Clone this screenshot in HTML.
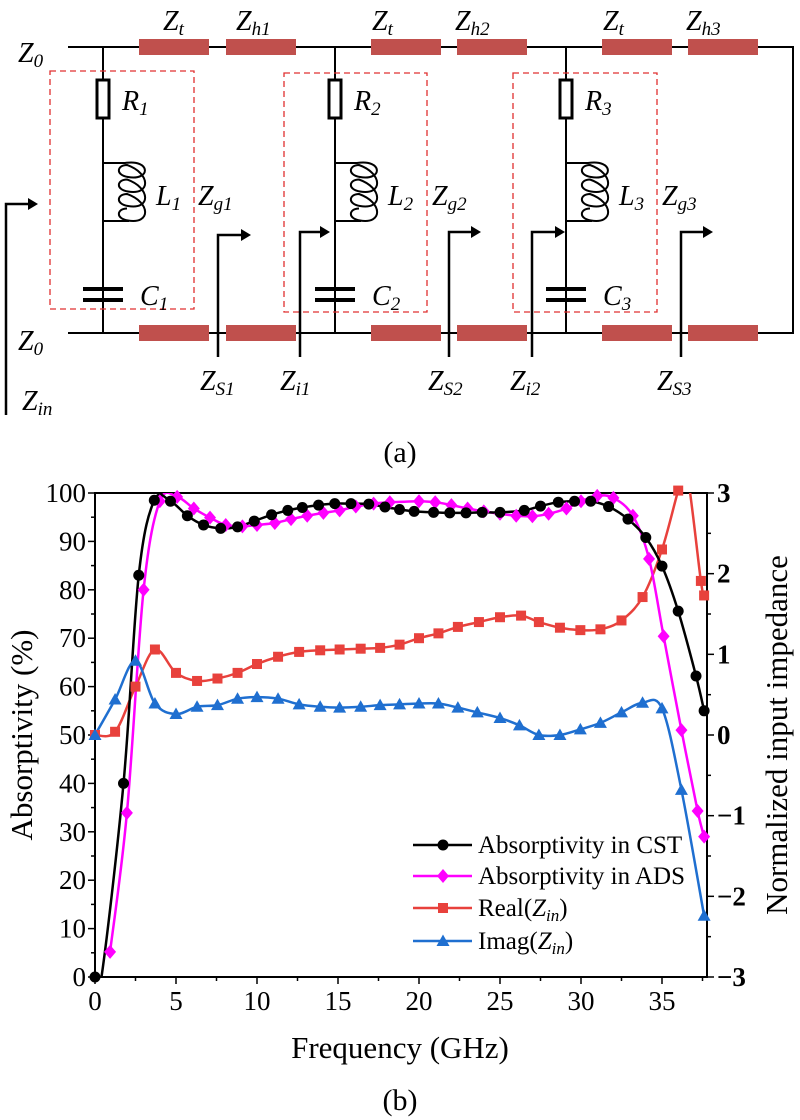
<!DOCTYPE html>
<html><head><meta charset="utf-8"><style>
html,body{margin:0;padding:0;background:#fff;}
svg{display:block;}
text,tspan{font-family:"Liberation Serif","DejaVu Serif","Times New Roman",serif !important;}
.it{font-style:italic;}
</style></head><body>
<svg id="s" width="800" height="1120" viewBox="0 0 800 1120" xmlns="http://www.w3.org/2000/svg" font-family="Liberation Serif, DejaVu Serif, serif">
<g id="circ" stroke="#000" stroke-width="2" fill="none">
 <polyline points="68,47 793,47 793,333 68,333"/>
 <line x1="103" y1="47" x2="103" y2="333"/><line x1="335" y1="47" x2="335" y2="333"/><line x1="566" y1="47" x2="566" y2="333"/>
</g>
<g fill="#c0504d">
 <rect x="139" y="39" width="70" height="16"/><rect x="226" y="39" width="70" height="16"/>
 <rect x="371" y="39" width="70" height="16"/><rect x="457" y="39" width="70" height="16"/>
 <rect x="602" y="39" width="70" height="16"/><rect x="688" y="39" width="70" height="16"/>
 <rect x="139" y="325" width="70" height="16"/><rect x="226" y="325" width="70" height="16"/>
 <rect x="371" y="325" width="70" height="16"/><rect x="457" y="325" width="70" height="16"/>
 <rect x="602" y="325" width="70" height="16"/><rect x="688" y="325" width="70" height="16"/>
</g>
<g id="comps"></g>
<g stroke="#e03030" stroke-width="1.3" stroke-dasharray="6,4" fill="none">
 <rect x="50" y="71" width="144" height="238"/><rect x="284" y="73" width="143" height="239"/><rect x="513" y="73" width="144" height="239"/>
</g>
<g stroke="#000" stroke-width="2.5" fill="none">
 <polyline points="6,415 6,204 30,204"/>
 <polyline points="218,357 218,235 243,235"/><polyline points="300,357 300,232 322,232"/>
 <polyline points="449,357 449,232 473,232"/><polyline points="532,357 532,232 557,232"/>
 <polyline points="681,357 681,232 705,232"/>
</g>
<g fill="#000">
 <polygon points="38,204 28,198 28,210"/><polygon points="251,235 241,229 241,241"/><polygon points="330,232 320,226 320,238"/>
 <polygon points="481,232 471,226 471,238"/><polygon points="565,232 555,226 555,238"/><polygon points="713,232 703,226 703,238"/>
</g>
<g class="it" font-size="28" fill="#000">
 <text x="18" y="62">Z<tspan font-size="19" dy="5">0</tspan></text>
 <text x="18" y="350">Z<tspan font-size="19" dy="5">0</tspan></text>
 <text x="163" y="30">Z<tspan font-size="19" dy="5">t</tspan></text>
 <text x="236" y="30">Z<tspan font-size="19" dy="5">h1</tspan></text>
 <text x="372" y="30">Z<tspan font-size="19" dy="5">t</tspan></text>
 <text x="455" y="30">Z<tspan font-size="19" dy="5">h2</tspan></text>
 <text x="603" y="30">Z<tspan font-size="19" dy="5">t</tspan></text>
 <text x="686" y="30">Z<tspan font-size="19" dy="5">h3</tspan></text>
 <text x="122" y="110">R<tspan font-size="19" dy="5">1</tspan></text>
 <text x="354" y="110">R<tspan font-size="19" dy="5">2</tspan></text>
 <text x="585" y="110">R<tspan font-size="19" dy="5">3</tspan></text>
 <text x="156" y="205">L<tspan font-size="19" dy="5">1</tspan></text>
 <text x="388" y="205">L<tspan font-size="19" dy="5">2</tspan></text>
 <text x="619" y="205">L<tspan font-size="19" dy="5">3</tspan></text>
 <text x="198" y="205">Z<tspan font-size="19" dy="5">g1</tspan></text>
 <text x="432" y="205">Z<tspan font-size="19" dy="5">g2</tspan></text>
 <text x="662" y="205">Z<tspan font-size="19" dy="5">g3</tspan></text>
 <text x="140" y="305">C<tspan font-size="19" dy="5">1</tspan></text>
 <text x="372" y="305">C<tspan font-size="19" dy="5">2</tspan></text>
 <text x="603" y="305">C<tspan font-size="19" dy="5">3</tspan></text>
 <text x="200" y="390">Z<tspan font-size="19" dy="5">S1</tspan></text>
 <text x="280" y="390">Z<tspan font-size="19" dy="5">i1</tspan></text>
 <text x="428" y="390">Z<tspan font-size="19" dy="5">S2</tspan></text>
 <text x="510" y="390">Z<tspan font-size="19" dy="5">i2</tspan></text>
 <text x="657" y="390">Z<tspan font-size="19" dy="5">S3</tspan></text>
 <text x="22" y="410">Z<tspan font-size="19" dy="5">in</tspan></text>
</g>
<text x="400" y="462" font-size="30" text-anchor="middle">(a)</text>
<text x="400" y="1110" font-size="30" text-anchor="middle">(b)</text>
<text x="400" y="1058" font-size="31" text-anchor="middle">Frequency (GHz)</text>
<text transform="translate(32,735) rotate(-90)" font-size="31" text-anchor="middle">Absorptivity (%)</text>
<text transform="translate(787,735) rotate(-90)" font-size="31" text-anchor="middle">Normalized input impedance</text>
<defs><clipPath id="cp"><rect x="95" y="493" width="612" height="484"/></clipPath></defs>
<g id="axes"></g>
<g id="plot" clip-path="url(#cp)"></g>
<g id="mk"></g>
<g id="leg"></g>
</svg>
<script>
var NS="http://www.w3.org/2000/svg";
function el(p,t,a,txt){var e=document.createElementNS(NS,t);for(var k in a)e.setAttribute(k,a[k]);if(txt!=null)e.textContent=txt;document.getElementById(p).appendChild(e);return e;}
[103,335,566].forEach(function(x){
 el("comps","rect",{x:x-6,y:80,width:12,height:38,fill:"#fff",stroke:"#000","stroke-width":3});
 var d="M"+x+",118 L"+x+",163 L"+(x+22)+",163 ";
 for(var i=0;i<4;i++){var y=163+i*14.5;d+="C"+(x+48)+","+(y-4)+" "+(x+48)+","+(y+18)+" "+(x+25)+","+(y+14)+" C"+(x+12)+","+(y+12)+" "+(x+14)+","+(y+2)+" "+(x+24)+","+(y+2)+" ";}
 d+="M"+(x+26)+",221 L"+x+",221 L"+x+",289 M"+x+",300 L"+x+",333";
 el("comps","path",{d:d,fill:"none",stroke:"#000","stroke-width":2});
 el("comps","line",{x1:x-20,y1:289,x2:x+20,y2:289,stroke:"#000","stroke-width":4});
 el("comps","line",{x1:x-20,y1:300,x2:x+20,y2:300,stroke:"#000","stroke-width":4});
});
var B=977,T=493,H=B-T;
function X(f){return 95+f*16.2;}
function YP(p){return B-p*H/100;}
function YZ(z){return (B+T)/2-z*H/6;}
el("axes","rect",{x:95,y:T,width:612,height:H,fill:"none",stroke:"#000","stroke-width":2});
for(var f=0;f<=37.5;f+=2.5){var maj=(f%5==0);el("axes","line",{x1:X(f),y1:B,x2:X(f),y2:B+(maj?7:4),stroke:"#000","stroke-width":1.5});
 if(maj)el("axes","text",{x:X(f),y:B+33,"font-size":27,"text-anchor":"middle"},f);}
for(var p=0;p<=100;p+=5){var maj=(p%10==0);el("axes","line",{x1:95,y1:YP(p),x2:95-(maj?7:4),y2:YP(p),stroke:"#000","stroke-width":1.5});
 if(maj)el("axes","text",{x:86,y:YP(p)+9,"font-size":27,"text-anchor":"end"},p);}
for(var z=-3;z<=3;z+=0.5){var maj=(z%1==0);el("axes","line",{x1:707,y1:YZ(z),x2:707+(maj?7:4),y2:YZ(z),stroke:"#000","stroke-width":1.5});
 if(maj)el("axes","text",{x:717,y:YZ(z)+9,"font-size":27,"font-weight":"bold"},(z<0?"\u2212"+(-z):z));}
function path(pts){var d="M"+pts[0][0]+","+pts[0][1];for(var i=0;i<pts.length-1;i++){var p0=pts[Math.max(0,i-1)],p1=pts[i],p2=pts[i+1],p3=pts[Math.min(pts.length-1,i+2)];
 d+=" C"+(p1[0]+(p2[0]-p0[0])/6)+","+(p1[1]+(p2[1]-p0[1])/6)+" "+(p2[0]-(p3[0]-p1[0])/6)+","+(p2[1]-(p3[1]-p1[1])/6)+" "+p2[0]+","+p2[1];}return d;}
var cst=[[0,0],[0.4,0],[1.76,40],[2.7,83],[3.66,98.5],[4.66,98.3],[5.7,95.3],[6.7,93.4],[7.76,92.7],[8.8,93],[9.83,94.2],[10.9,95.5],[11.9,96.4],[12.8,97],[13.8,97.5],[14.8,97.8],[15.8,97.8],[16.9,97.7],[17.9,97.1],[18.8,96.6],[19.7,96.2],[20.9,96],[21.9,95.9],[22.9,95.9],[23.9,96],[25,96],[26.5,96.4],[27.5,97.3],[28.6,98.1],[29.6,98.3],[30.6,98.3],[31.7,97.2],[32.9,94.6],[34,90.8],[35,84.9],[36,75.6],[37.1,62.2],[37.6,55]];
var ads=[[0.93,5.2],[1.97,33.9],[3.0,80],[4.0,98.3],[5.07,99.2],[6.1,96.8],[7.1,94.9],[8.07,93.4],[9.1,93.1],[10,93.4],[11.1,93.8],[12.1,94.6],[13.1,95.3],[14.1,95.9],[15.1,96.4],[16.1,97.2],[17.2,97.8],[18.2,98.1],[19.1,98.2],[20,98.3],[21,98.1],[22,97.5],[23,96.8],[24,96.2],[25,95.7],[26,95.3],[27,95.2],[28,95.7],[29.1,96.8],[30,98.3],[31,99.4],[32,99],[33.2,95.3],[34.2,86.4],[35.1,70.4],[36.2,51],[37.2,34.3],[37.6,29]];
var re=[[0,0],[1.24,0.04],[2.5,0.6],[3.7,1.06],[5,0.77],[6.3,0.67],[7.56,0.7],[8.8,0.77],[10,0.88],[11.3,0.97],[12.6,1.03],[13.9,1.05],[15.1,1.06],[16.4,1.07],[17.6,1.08],[18.8,1.12],[20,1.2],[21.2,1.26],[22.4,1.34],[23.7,1.4],[25,1.46],[26.3,1.48],[27.4,1.4],[28.7,1.33],[29.96,1.3],[31.2,1.31],[32.5,1.42],[33.8,1.71],[35,2.3],[36,3.03],[36.5,3.3],[37.4,1.91],[37.6,1.73]];
var im=[[0,0],[1.24,0.44],[2.5,0.92],[3.7,0.39],[5,0.26],[6.3,0.35],[7.56,0.37],[8.8,0.45],[10,0.47],[11.3,0.45],[12.6,0.38],[13.9,0.35],[15.1,0.34],[16.4,0.35],[17.6,0.37],[18.8,0.38],[20,0.39],[21.2,0.39],[22.4,0.34],[23.6,0.28],[25,0.21],[26.2,0.12],[27.4,0],[28.7,0],[29.96,0.07],[31.2,0.15],[32.5,0.28],[33.8,0.4],[35,0.33],[36.2,-0.68],[37.6,-2.24]];
function draw(data,fy,col,mk,skip){var pts=data.map(function(d){return[X(d[0]),fy(d[1])];});
 el("plot","path",{d:path(pts),fill:"none",stroke:col,"stroke-width":2.5});
 pts.forEach(function(p,i){if(skip&&skip.indexOf(i)>=0)return;if(p[1]<490||p[0]>708)return;marker("mk",mk,p[0],p[1],col);});}
function marker(g,mk,x,y,col){
 if(mk=="c")el(g,"circle",{cx:x,cy:y,r:5.5,fill:col});
 else if(mk=="d")el(g,"polygon",{points:(x)+","+(y-7)+" "+(x+6)+","+y+" "+x+","+(y+7)+" "+(x-6)+","+y,fill:col});
 else if(mk=="s")el(g,"rect",{x:x-5,y:y-5,width:10,height:10,fill:col});
 else el(g,"polygon",{points:x+","+(y-6.5)+" "+(x+6.5)+","+(y+5)+" "+(x-6.5)+","+(y+5),fill:col});}
draw(re,YZ,"#e8413c","s",[30]);
draw(im,YZ,"#1f6fd0","t");
draw(ads,YP,"#ff00ff","d",[18]);
draw(cst,YP,"#000","c",[1]);
var L=[["Absorptivity in CST","#000","c",845],["Absorptivity in ADS","#ff00ff","d",876],["Real(","#e8413c","s",908],["Imag(","#1f6fd0","t",941]];
L.forEach(function(l){el("leg","line",{x1:413,y1:l[3],x2:472,y2:l[3],stroke:l[1],"stroke-width":2.5});marker("leg",l[2],443,l[3],l[1]);
 var t=el("leg","text",{x:478,y:l[3]+8,"font-size":25},l[0]);
 if(l[0].length<7){var a=document.createElementNS(NS,"tspan");a.setAttribute("font-style","italic");a.textContent="Z";t.appendChild(a);
  var b=document.createElementNS(NS,"tspan");b.setAttribute("font-style","italic");b.setAttribute("font-size","17");b.setAttribute("dy","5");b.textContent="in";t.appendChild(b);
  var c=document.createElementNS(NS,"tspan");c.setAttribute("dy","-5");c.textContent=")";t.appendChild(c);}});
</script>
</body></html>
